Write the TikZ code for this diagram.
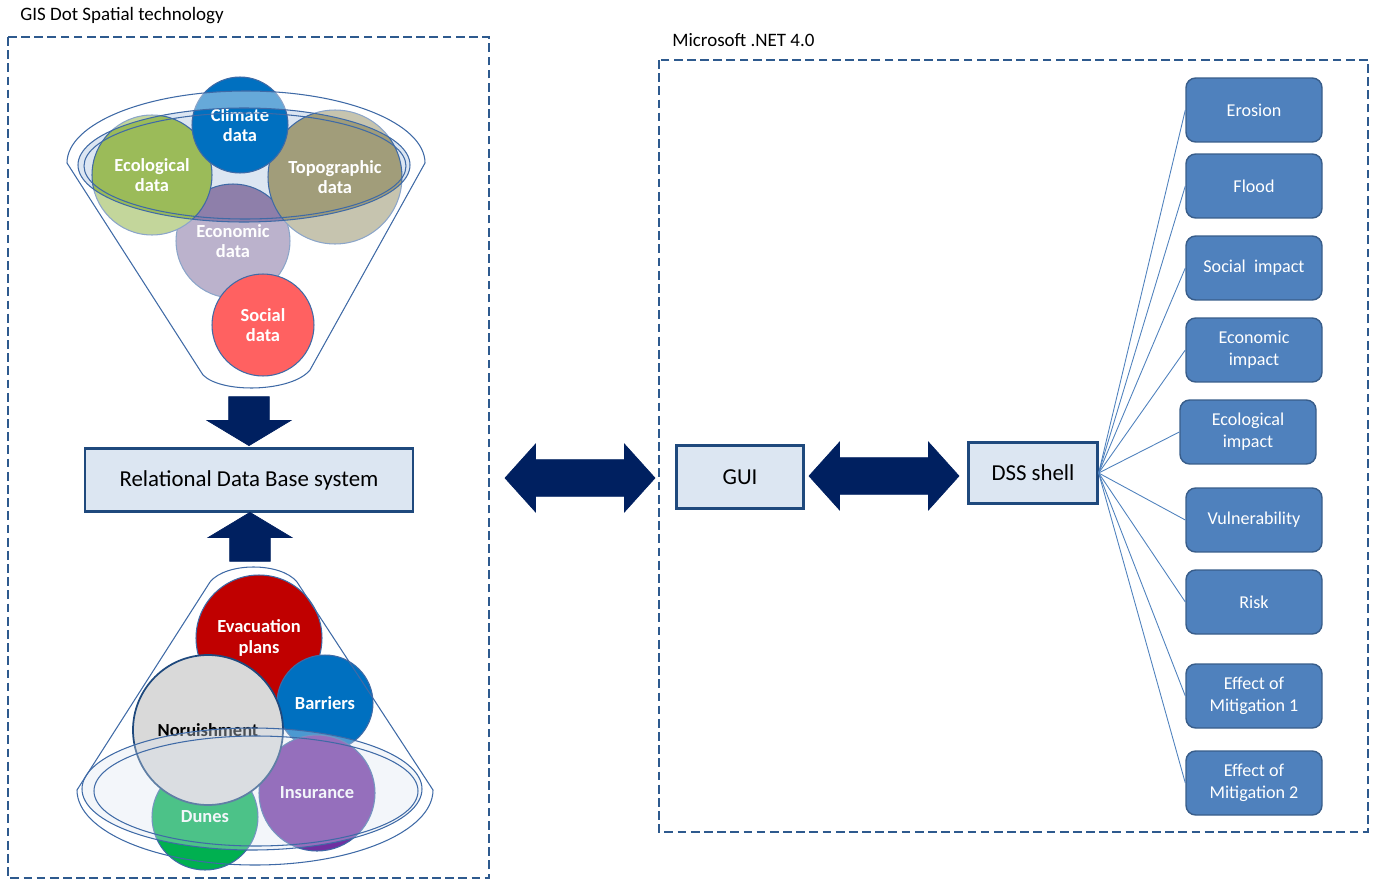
\documentclass[tikz,border=0pt]{standalone}
\usepackage{fontspec}
\setmainfont{Carlito}
\usetikzlibrary{positioning,shapes.arrows}
\definecolor{navy}{HTML}{002060}
\definecolor{framecol}{HTML}{2E5A8E}
\definecolor{paleblue}{HTML}{DCE6F2}
\definecolor{darkrim}{HTML}{1F497D}
\definecolor{tilefill}{HTML}{4F81BD}
\definecolor{tilerim}{HTML}{385D8A}
\definecolor{rim}{HTML}{3F6AA6}
\definecolor{climcol}{HTML}{0070C0}
\definecolor{ecolcol}{HTML}{9BBB59}
\definecolor{topocol}{HTML}{A19D7A}
\definecolor{econcol}{HTML}{8E7FAA}
\definecolor{soccol}{HTML}{FF6161}
\definecolor{evaccol}{HTML}{C00000}
\definecolor{barrcol}{HTML}{0070C0}
\definecolor{nourcol}{HTML}{D9D9D9}
\definecolor{insucol}{HTML}{7030A0}
\definecolor{dunecol}{HTML}{00B050}
\begin{document}
\begin{tikzpicture}[
  x=0.02cm, y=-0.02cm,
  dashframe/.style={draw=framecol, line width=1pt, dash pattern=on 5pt off 2.5pt},
  caption/.style={anchor=west, inner sep=0pt, font=\fontsize{10.8}{12}\selectfont},
  sysbox/.style={rectangle, draw=darkrim, line width=1.3pt, fill=paleblue, font=\fontsize{13}{15}\selectfont},
  tile/.style={rectangle, rounded corners=5.5pt, draw=tilerim, line width=0.8pt, fill=tilefill, text=white,
    minimum width=2.72cm, minimum height=1.28cm, align=center, font=\fontsize{10.3}{12.5}\selectfont},
  bubble/.style={circle, draw=rim, line width=0.6pt, inner sep=0pt, align=center, text=white,
    font=\bfseries\fontsize{10.5}{11.5}\selectfont},
  rimline/.style={draw=rim, line width=0.6pt},
  fatdouble/.style={double arrow, fill=navy, draw=navy, inner xsep=0pt, inner ysep=0.36cm,
    minimum height=3cm, double arrow head extend=0.31cm, double arrow tip angle=96},
  fatsingle/.style={single arrow, fill=navy, draw=navy, inner xsep=0pt, inner ysep=0.4cm,
    minimum height=0.98cm, single arrow head extend=0.43cm, single arrow tip angle=118},
  link/.style={draw=tilefill, line width=0.5pt}
]
\useasboundingbox (0,0) rectangle (1373,879);

% GIS Dot Spatial side
\node[caption] (gistitle) at (20,16) {GIS Dot Spatial technology};
\draw[dashframe] (8,37) rectangle (489,878);

% input funnel
\fill[paleblue] (244,165) ellipse [x radius=166, y radius=57];
\node[bubble, fill=econcol, minimum size=2.28cm] (econ) at (233,241) {Economic\\data};
\node[bubble, fill=ecolcol, minimum size=2.4cm] (ecol) at (152,175) {Ecological\\data};
\node[bubble, fill=topocol, minimum size=2.68cm] (topo) at (335,177) {Topographic\\data};
\node[bubble, fill=climcol, minimum size=1.92cm] (clim) at (240,125) {Climate\\data};
\fill[white, fill opacity=0.4, even odd rule]
  (67,163) arc[start angle=180, end angle=360, x radius=179, y radius=72]
  -- (310,370) .. controls (292,392) and (222,394) .. (203,375) -- cycle
  (244,165) ellipse [x radius=166, y radius=57];
\draw[rimline] (67,163) arc[start angle=180, end angle=360, x radius=179, y radius=72]
  -- (310,370) .. controls (292,392) and (222,394) .. (203,375) -- cycle;
\node[bubble, fill=soccol, minimum size=2.04cm] (soc) at (263,325) {Social\\data};
\draw[rimline] (244,165) ellipse [x radius=166, y radius=57];
\draw[rimline] (245,166) ellipse [x radius=161, y radius=53];

\node[fatsingle, rotate=-90] (down) at (249,415) {};
\node[sysbox, minimum width=6.56cm, minimum height=1.26cm] (rdbs) at (249,480) {Relational Data Base system};
\node[fatsingle, rotate=90] (up) at (250,543) {};

% measures cone
\node[bubble, fill=evaccol, minimum size=2.52cm] (evac) at (259,638) {Evacuation\\plans};
\node[bubble, fill=barrcol, minimum size=1.92cm] (barr) at (325,703) {Barriers};
\node[bubble, fill=dunecol, minimum size=2.12cm] (dune) at (205,817) {Dunes};
\node[bubble, fill=insucol, minimum size=2.32cm] (insu) at (317,793) {Insurance};
\node[bubble, fill=nourcol, draw=darkrim, line width=1pt, text=black, minimum size=3cm] (nour) at (208,730) {Noruishment};
\fill[paleblue, fill opacity=0.35] (252,789) ellipse [x radius=170, y radius=61];
\draw[rimline] (252,789) ellipse [x radius=170, y radius=61];
\draw[rimline] (256,791) ellipse [x radius=162, y radius=55];
\draw[rimline] (77,790) -- (210,582) .. controls (226,562) and (281,562) .. (297,582)
  -- (433,790) arc[start angle=0, end angle=180, x radius=178, y radius=75] -- cycle;

% .NET side
\node[fatdouble] (gislink) at (580,478) {};
\node[caption] (nettitle) at (672,40) {Microsoft .NET 4.0};
\draw[dashframe] (659,60) rectangle (1368,832);
\node[sysbox, minimum width=2.54cm, minimum height=1.26cm] (gui) at (740,477) {GUI};
\node[fatdouble] (guilink) at (884,476) {};
\node[sysbox, minimum width=2.58cm, minimum height=1.22cm] (dss) at (1033,473) {DSS shell};

\node[tile] (erosion) at (1254,110) {Erosion};
\node[tile] (flood) at (1254,186) {Flood};
\node[tile] (social) at (1254,268) {Social~~impact};
\node[tile] (economic) at (1254,350) {Economic\\impact};
\node[tile] (ecological) at (1248,432) {Ecological\\impact};
\node[tile] (vuln) at (1254,520) {Vulnerability};
\node[tile] (risk) at (1254,602) {Risk};
\node[tile] (mit1) at (1254,696) {Effect of\\Mitigation 1};
\node[tile] (mit2) at (1254,783) {Effect of\\Mitigation 2};

\draw[link] (dss.east) -- (erosion.west);
\draw[link] (dss.east) -- (flood.west);
\draw[link] (dss.east) -- (social.west);
\draw[link] (dss.east) -- (economic.west);
\draw[link] (dss.east) -- (ecological.west);
\draw[link] (dss.east) -- (vuln.west);
\draw[link] (dss.east) -- (risk.west);
\draw[link] (dss.east) -- (mit1.west);
\draw[link] (dss.east) -- (mit2.west);
\end{tikzpicture}
\end{document}
